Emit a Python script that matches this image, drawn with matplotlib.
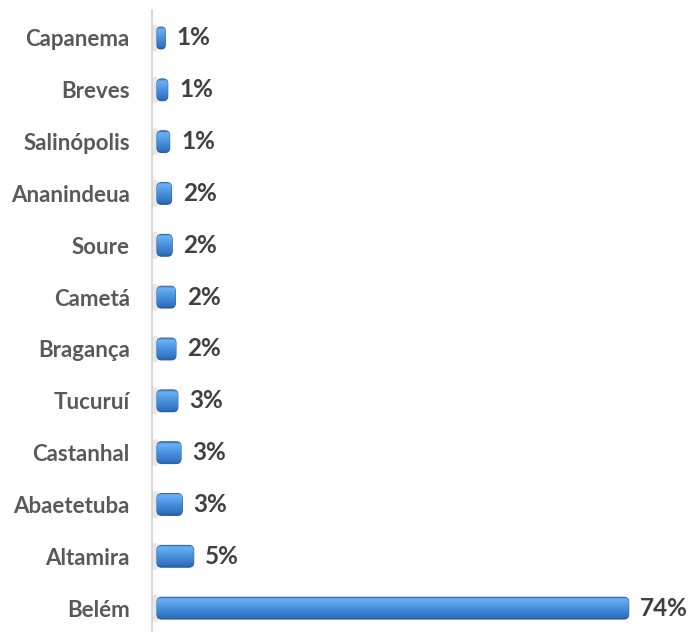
import matplotlib
matplotlib.use("Agg")
import matplotlib.pyplot as plt
import numpy as np
from matplotlib.patches import FancyBboxPatch
from matplotlib.colors import LinearSegmentedColormap

# cities, top to bottom as drawn; share of total (%)
cities = ["Capanema", "Breves", "Salinópolis", "Ananindeua", "Soure", "Cametá",
          "Bragança", "Tucuruí", "Castanhal", "Abaetetuba", "Altamira", "Belém"]
shares = [0.7, 1.1, 1.4, 1.7, 1.8, 2.3, 2.4, 2.7, 3.2, 3.4, 5.2, 74.0]

plt.rcParams['font.family'] = ['Lato', 'DejaVu Sans']

fig = plt.figure(figsize=(6.9, 6.32), dpi=100)
ax = fig.add_axes([152 / 690, 0, 538 / 690, 622 / 632])

# bar shading, bottom -> top
shade = LinearSegmentedColormap.from_list(
    "cyl", [(0.0, "#2a5e9f"), (0.12, "#3474c2"), (0.45, "#448cda"),
            (0.75, "#5ea4ee"), (0.92, "#6cb0f3"), (1.0, "#356fb5")])
grad = np.linspace(0, 1, 64).reshape(-1, 1)

depth = 0.6      # extra length for the rounded 3d cap
bar_h = 0.42
n = len(cities)
for i, (name, v) in enumerate(zip(cities, shares)):
    y = n - 1 - i
    w = v + depth
    # soft shadow at the axis
    ax.add_patch(FancyBboxPatch((-0.75, y - bar_h / 2 - 0.05), 0.9, bar_h + 0.1,
                                boxstyle="round,pad=0,rounding_size=0.4",
                                mutation_aspect=0.12, fc="#c4c4c4", ec="none",
                                alpha=0.4, zorder=1))
    p = FancyBboxPatch((0, y - bar_h / 2), w, bar_h,
                       boxstyle=f"round,pad=0,rounding_size={min(0.75, w * 0.45):.3f}",
                       mutation_aspect=0.12, fc="#448cda",
                       ec="#2b5f9e", lw=0.8, zorder=2)
    ax.add_patch(p)
    im = ax.imshow(grad, cmap=shade, origin="lower", aspect="auto",
                   extent=(0, w, y - bar_h / 2, y + bar_h / 2), zorder=3)
    im.set_clip_path(p)
    ax.text(w + 1.8, y, f"{round(v)}%", ha="left", va="center",
            fontsize=17.5, fontweight="bold", color="#404040", zorder=4)

ax.set_xlim(-0.79, 84.3)
ax.set_ylim(-0.46, 11.54)
ax.set_yticks(range(n))
ax.set_yticklabels(cities[::-1], fontsize=16, fontweight="bold", color="#595959")
ax.tick_params(axis="y", length=0, pad=16)
ax.set_xticks([])
for s in ["top", "right", "bottom"]:
    ax.spines[s].set_visible(False)
ax.spines["left"].set_color("#d0d0d0")
ax.spines["left"].set_linewidth(1.2)

fig.savefig("out.png", dpi=100)
